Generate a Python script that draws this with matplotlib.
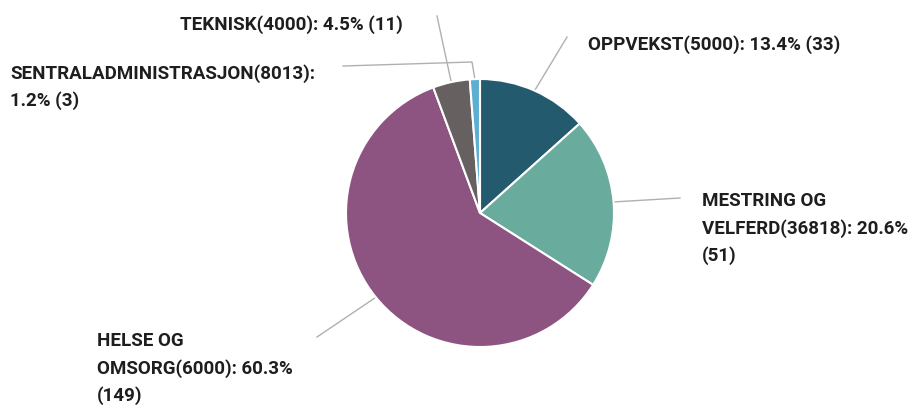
import numpy as np
import matplotlib.pyplot as plt

# departments, codes and case counts
names = ['OPPVEKST', 'MESTRING OG\nVELFERD', 'HELSE OG\nOMSORG', 'TEKNISK', 'SENTRALADMINISTRASJON']
codes = ['5000', '36818', '6000', '4000', '8013']
counts = [33, 51, 149, 11, 3]
colors = ['#245a6d', '#69ab9d', '#8d5381', '#666061', '#5cafd2']

W, H = 917, 409
cx, cy, r = 480, H - 213, 134

fig = plt.figure(figsize=(W / 100, H / 100), dpi=100)
ax = fig.add_axes([0, 0, 1, 1])

wedges, _ = ax.pie(counts, colors=colors, center=(cx, cy), radius=r,
                   startangle=90, counterclock=False, frame=True,
                   wedgeprops=dict(edgecolor='white', linewidth=1.5))
ax.set_xlim(0, W)
ax.set_ylim(0, H)
ax.set_aspect('equal')
ax.axis('off')

total = sum(counts)
pcts = [v / total * 100 for v in counts]
labels = [
    f'{names[0]}({codes[0]}): {pcts[0]:.1f}% ({counts[0]})',
    f'{names[1]}({codes[1]}): {pcts[1]:.1f}%\n({counts[1]})',
    f'{names[2]}({codes[2]}): {pcts[2]:.1f}%\n({counts[2]})',
    f'{names[3]}({codes[3]}): {pcts[3]:.1f}% ({counts[3]})',
    f'{names[4]}({codes[4]}):\n{pcts[4]:.1f}% ({counts[4]})',
]

# label placement (pixels from top-left) and leader line waypoints
text_pos = [(588, 45, 'left'), (702, 202, 'left'), (97, 342, 'left'),
            (403, 25, 'right'), (10, 74, 'left')]
leader_pts = [[(567, 37)], [(680, 198)], [(317, 337)], [(437, 16)],
              [(472, 62), (343, 66)]]

txt = dict(family='Roboto', fontsize=13.5, fontweight='bold', color='#1e1e1e',
           linespacing=1.6, va='top')
for w, pts in zip(wedges, leader_pts):
    mid = np.deg2rad((w.theta1 + w.theta2) / 2)
    x0, y0 = cx + r * np.cos(mid), cy + r * np.sin(mid)
    xs = [x0] + [p[0] for p in pts]
    ys = [y0] + [H - p[1] for p in pts]
    ax.plot(xs, ys, color='#b0b0b0', lw=1, zorder=0)

for lab, (tx, ty, ha) in zip(labels, text_pos):
    ax.text(tx, H - ty + 10, lab, ha=ha, **txt)

fig.savefig('out.png', dpi=100)
